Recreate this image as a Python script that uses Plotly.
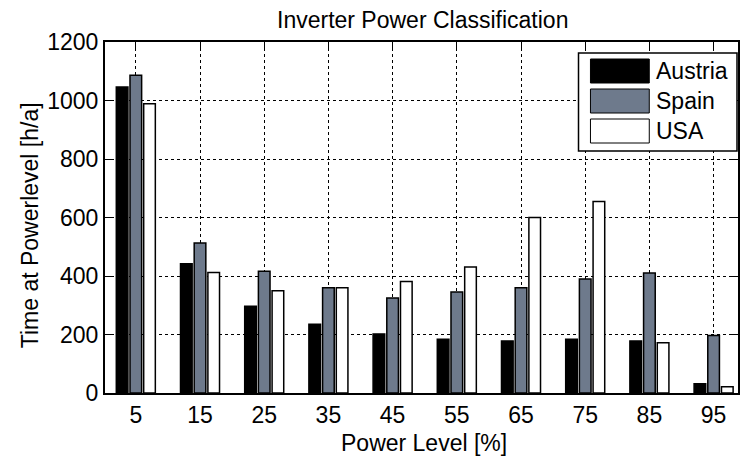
import plotly.graph_objects as go

power_levels = [5, 15, 25, 35, 45, 55, 65, 75, 85, 95]
austria = [1046, 442, 297, 235, 202, 184, 178, 184, 178, 32]
spain = [1086, 513, 416, 360, 325, 345, 360, 390, 410, 197]
usa = [989, 412, 350, 360, 381, 431, 600, 655, 172, 21]
series_names = ["Austria", "Spain", "USA"]
series_colors = ["#000000", "#6e7a8c", "#ffffff"]
y_ticks = [0, 200, 400, 600, 800, 1000, 1200]

FONT = "Liberation Sans, Arial, sans-serif"
FS = 23

fig = go.Figure()
for name, vals, col in zip(series_names, [austria, spain, usa], series_colors):
    fig.add_trace(go.Bar(
        x=power_levels, y=vals, name=name,
        marker=dict(color=col, line=dict(color="black", width=1.5)),
        showlegend=False,
    ))

W, H = 740, 457
L, R, T, B = 105, 0, 42, 64
pw, ph = W - L - R, H - T - B

fig.update_layout(
    width=W, height=H,
    margin=dict(l=L, r=R, t=T, b=B),
    paper_bgcolor="white", plot_bgcolor="white",
    barmode="group", bargap=0.36, bargroupgap=0.15,
    font=dict(family=FONT, size=FS, color="black"),
)
fig.update_xaxes(
    range=[0.2, 98.8], tickvals=power_levels, ticktext=[str(v) for v in power_levels],
    showgrid=True, gridcolor="black", gridwidth=1, griddash="dot",
    showline=True, linecolor="black", linewidth=2, mirror="ticks",
    ticks="inside", ticklen=6, tickcolor="black", tickwidth=1,
    layer="below traces", zeroline=False,
    tickfont=dict(family=FONT, size=FS),
)
fig.update_yaxes(
    range=[0, 1200], tickvals=y_ticks,
    showgrid=True, gridcolor="black", gridwidth=1, griddash="dot",
    showline=True, linecolor="black", linewidth=2, mirror="ticks",
    ticks="inside", ticklen=6, tickcolor="black", tickwidth=1,
    layer="below traces", zeroline=False,
    tickfont=dict(family=FONT, size=FS),
)

def px_x(x):
    return (x - L) / pw

def px_y(y):
    return 1 - (y - T) / ph

annotations = [
    dict(text="Inverter Power Classification", x=px_x(424), y=px_y(20), xref="paper", yref="paper",
         showarrow=False, xanchor="center", yanchor="middle", font=dict(size=FS)),
    dict(text="Power Level [%]", x=px_x(425), y=px_y(443), xref="paper", yref="paper",
         showarrow=False, xanchor="center", yanchor="middle", font=dict(size=FS)),
    dict(text="Time at Powerlevel [h/a]", x=px_x(30), y=px_y(225), xref="paper", yref="paper",
         showarrow=False, xanchor="center", yanchor="middle", textangle=-90, font=dict(size=FS)),
]

shapes = [
    dict(type="rect", xref="paper", yref="paper", x0=px_x(580), x1=px_x(739), y0=px_y(151), y1=px_y(53),
         line=dict(color="black", width=1.5), fillcolor="white", layer="above"),
]
row_centers = [71, 101, 131]
for name, col, yc in zip(series_names, series_colors, row_centers):
    shapes.append(dict(type="rect", xref="paper", yref="paper", x0=px_x(592), x1=px_x(651),
                       y0=px_y(yc + 12), y1=px_y(yc - 12),
                       line=dict(color="black", width=1), fillcolor=col, layer="above"))
    annotations.append(dict(text=name, x=px_x(656), y=px_y(yc), xref="paper", yref="paper",
                            showarrow=False, xanchor="left", yanchor="middle", font=dict(size=FS)))

fig.update_layout(shapes=shapes, annotations=annotations)
fig.write_html("out.html")
